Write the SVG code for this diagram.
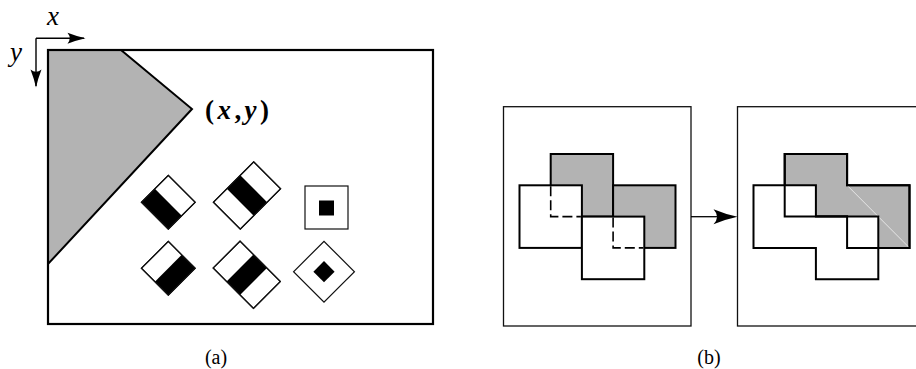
<svg xmlns="http://www.w3.org/2000/svg" width="916" height="369" viewBox="0 0 916 369">
<style>
.gray{fill:#b3b3b3}
.frame{fill:none;stroke:#000;stroke-width:2.2}
.box{fill:none;stroke:#111;stroke-width:1.3}
.dia{fill:#fff;stroke:#111;stroke-width:1.2}
.blk{fill:#000}
.sq{stroke:#000;stroke-width:2;stroke-linejoin:miter}
.dash{fill:none;stroke:#000;stroke-width:1.6;stroke-dasharray:10 4}
.lbl{font-family:"Liberation Serif",serif;fill:#000}
</style>
<defs>
<path id="ah" d="M0,0 Q-9,-2 -18,-5.5 Q-13.5,0 -18,5.5 Q-9,2 0,0Z" fill="#000"/>
<path id="ahb" d="M0,0 Q-12,-2.5 -24,-7.5 Q-17,0 -24,7.5 Q-12,2.5 0,0Z" fill="#000"/>
</defs>

<g id="panel-a">
  <g id="axes">
    <path d="M36,38.3 H84 M36,38.3 V86" stroke="#000" stroke-width="1.4" fill="none"/>
    <use href="#ah" transform="translate(85.5,38.3)"/>
    <use href="#ah" transform="translate(36,87.5) rotate(90)"/>
    <text class="lbl" x="47" y="25" font-size="27" font-style="italic">x</text>
    <text class="lbl" x="10" y="61" font-size="27" font-style="italic">y</text>
  </g>
  <g id="region">
    <polygon class="gray" points="48,50 121,50 192,109 48,264" stroke="#000" stroke-width="2" stroke-linejoin="miter"/>
  </g>
  <rect id="image-frame" class="frame" x="48" y="50" width="385" height="274"/>
  <text id="xy-label" class="lbl" x="205" y="119" font-size="27" font-weight="bold" textLength="64" lengthAdjust="spacing">(<tspan font-style="italic">x</tspan>,<tspan font-style="italic">y</tspan>)</text>

  <g id="feature1" transform="translate(168.3,202.3) rotate(45)">
    <rect class="dia" x="-19" y="-19" width="38" height="38"/>
    <rect class="blk" x="-19" y="0" width="38" height="19"/>
    <rect x="-19" y="-19" width="38" height="38" fill="none" stroke="#111" stroke-width="1.2"/>
  </g>
  <g id="feature2" transform="translate(247,195.5) rotate(45)">
    <rect class="dia" x="-19" y="-28.5" width="38" height="57"/>
    <rect class="blk" x="-19" y="-9.5" width="38" height="19"/>
    <rect x="-19" y="-28.5" width="38" height="57" fill="none" stroke="#111" stroke-width="1.2"/>
  </g>
  <g id="feature3">
    <rect class="dia" x="305" y="186" width="43" height="43"/>
    <rect class="blk" x="319" y="200.5" width="15" height="15"/>
  </g>
  <g id="feature4" transform="translate(168.3,268.3) rotate(45)">
    <rect class="dia" x="-19" y="-19" width="38" height="38"/>
    <rect class="blk" x="0" y="-19" width="19" height="38"/>
    <rect x="-19" y="-19" width="38" height="38" fill="none" stroke="#111" stroke-width="1.2"/>
  </g>
  <g id="feature5" transform="translate(246.75,274.75) rotate(45)">
    <rect class="dia" x="-28.5" y="-19" width="57" height="38"/>
    <rect class="blk" x="-9.5" y="-19" width="19" height="38"/>
    <rect x="-28.5" y="-19" width="57" height="38" fill="none" stroke="#111" stroke-width="1.2"/>
  </g>
  <g id="feature6" transform="translate(324,271.7) rotate(45)">
    <rect class="dia" x="-21.5" y="-21.5" width="43" height="43"/>
    <rect class="blk" x="-7.5" y="-7.5" width="15" height="15"/>
  </g>
  <text id="caption-a" class="lbl" x="216" y="364" font-size="20" text-anchor="middle">(a)</text>
</g>

<g id="panel-b-left">
  <rect class="box" x="503.5" y="106.7" width="187.5" height="219.3"/>
  <rect class="gray sq" x="550.7" y="154" width="62.4" height="62.6"/>
  <rect class="gray sq" x="613.1" y="185.3" width="62.4" height="62.6"/>
  <rect class="sq" fill="#fff" x="519.5" y="185.3" width="62.4" height="62.6"/>
  <rect class="sq" fill="#fff" x="581.9" y="216.6" width="62.4" height="62.6"/>
  <path class="dash" d="M550.7,186.3 V216.6 H580.9"/>
  <path class="dash" d="M613.1,217.6 V247.9 H643.3"/>
</g>

<g id="connectors">
  <line x1="691" y1="216.7" x2="722" y2="216.7" stroke="#000" stroke-width="1.3"/>
  <use href="#ahb" transform="translate(737.5,216.7)"/>
</g>

<g id="panel-b-right">
  <rect class="box" x="737.5" y="106.7" width="187.5" height="219.3"/>
  <polygon class="gray sq" points="784.7,154 847.1,154 847.1,185.3 909.5,185.3 909.5,247.9 847.1,247.9 847.1,216.6 784.7,216.6"/>
  <line x1="848" y1="186.2" x2="908.6" y2="247" stroke="#e6e6e6" stroke-width="1"/>
  <polygon class="sq" fill="#fff" points="753.5,185.3 815.9,185.3 815.9,216.6 878.3,216.6 878.3,279.2 815.9,279.2 815.9,247.9 753.5,247.9"/>
  <polygon class="sq" fill="none" points="784.7,154 847.1,154 847.1,185.3 909.5,185.3 909.5,247.9 847.1,247.9 847.1,216.6 784.7,216.6"/>
  <text id="caption-b" class="lbl" x="709" y="364" font-size="20" text-anchor="middle">(b)</text>
</g>
</svg>
